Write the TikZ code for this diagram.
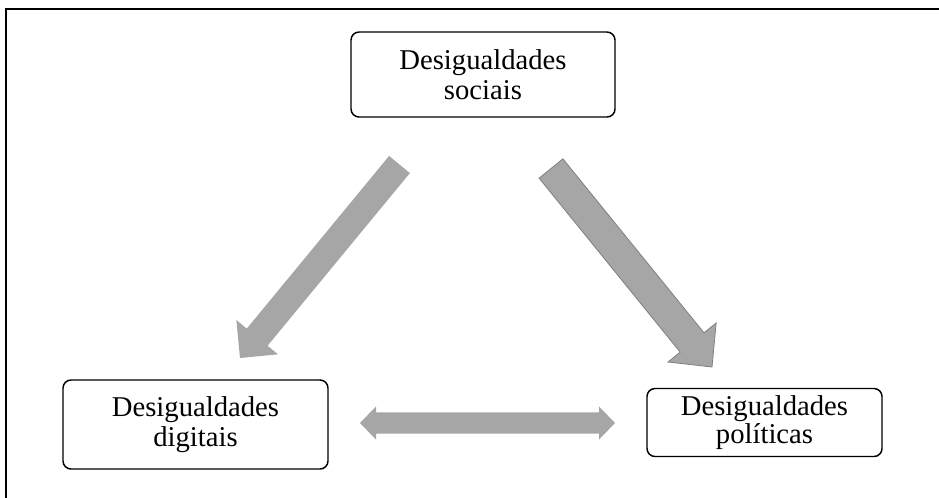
\documentclass[tikz,border=0pt]{standalone}
\usepackage{fontspec}
\setmainfont{Liberation Serif}
\usetikzlibrary{calc}
\definecolor{arrowgray}{RGB}{166,166,166}
\definecolor{edgegray}{RGB}{128,128,128}
\tikzset{
  box/.style={draw=black, line width=1.1pt, rounded corners=6pt, align=center,
    font=\fontsize{21.5}{22.5}\selectfont, inner sep=0pt},
  blockfill/.style={fill=arrowgray, draw=none},
  blockedge/.style={fill=arrowgray, draw=edgegray, line width=0.6pt},
  frameline/.style={line width=1.5pt},
}
% #1 tail, #2 tip, #3 shaft half width, #4 head half width, #5 head length, #6 style
\newcommand\myblockarrow[6]{%
  \coordinate (bah) at ($(#2)!#5!(#1)$);
  \path[#6] ($(#1)!#3!90:(#2)$) -- ($(bah)!#3!90:(#2)$) -- ($(bah)!#4!90:(#2)$)
    -- (#2) -- ($(bah)!#4!-90:(#2)$) -- ($(bah)!#3!-90:(#2)$)
    -- ($(#1)!#3!-90:(#2)$) -- cycle;
}
% double-headed: #1 one tip, #2 other tip
\newcommand\mydoublearrow[6]{%
  \coordinate (dah) at ($(#1)!#5!(#2)$);
  \coordinate (dbh) at ($(#2)!#5!(#1)$);
  \path[#6] (#1) -- ($(dah)!#4!90:(#2)$) -- ($(dah)!#3!90:(#2)$)
    -- ($(dbh)!#3!-90:(#1)$) -- ($(dbh)!#4!-90:(#1)$) -- (#2)
    -- ($(dbh)!#4!90:(#1)$) -- ($(dbh)!#3!90:(#1)$)
    -- ($(dah)!#3!-90:(#2)$) -- ($(dah)!#4!-90:(#2)$) -- cycle;
}
\begin{document}
\begin{tikzpicture}[x=0.75pt,y=-0.75pt]
\useasboundingbox (0,0) rectangle (939,497);
\draw[frameline] (6,530) -- (6,9) -- (970,9);

\node[box, minimum width=198pt, minimum height=63.75pt] (soc) at (483,74.5)
  {Desigualdades\\sociais};
\node[box, minimum width=198.75pt, minimum height=66.75pt] (dig) at (195.5,424.5)
  {Desigualdades\\digitais};
\node[box, minimum width=176.25pt, minimum height=51pt,
  font=\fontsize{21.5}{21}\selectfont] (pol) at (764.5,422.5)
  {Desigualdades\\políticas};

\coordinate (t1) at (399.5,164.5);
\coordinate (p1) at (240,358);
\coordinate (t2) at (551,168.5);
\coordinate (p2) at (712,367);
\coordinate (d1) at (360,423);
\coordinate (d2) at (615,423);

\myblockarrow{t1}{p1}{10.1pt}{20.25pt}{20.25pt}{blockfill}
\myblockarrow{t2}{p2}{11.5pt}{23.25pt}{23.7pt}{blockedge}
\mydoublearrow{d1}{d2}{7.9pt}{12.4pt}{12pt}{blockfill}
\end{tikzpicture}
\end{document}
